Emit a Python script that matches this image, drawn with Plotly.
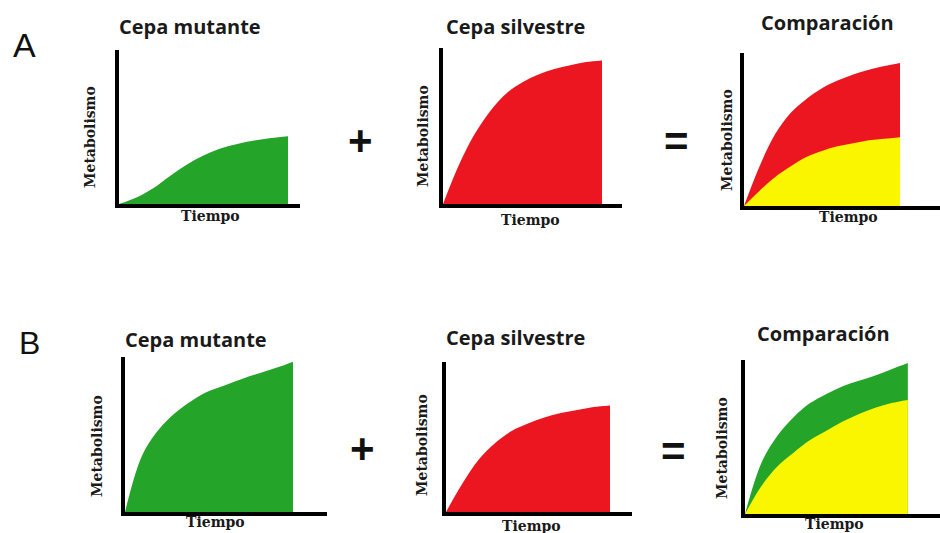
import plotly.graph_objects as go

W, H = 940, 533

# ---- data ----
tiempo = [0, 1, 2, 3, 4, 5, 6, 7, 8, 9, 10]

# Panel A
a_mutante = [0, 4, 10, 18, 25.5, 31.5, 36, 39, 41.2, 42.8, 44]
a_silvestre = [0, 25, 45, 60, 71, 78, 83, 86.5, 89, 91, 92]
a_comp_silvestre = [0, 26, 47, 61, 70, 77, 82, 86, 89, 91.5, 93.5]
a_comp_mutante = [0, 10, 19, 26, 32, 36, 39, 41, 43, 44, 45]

# Panel B
b_mutante = [0, 36, 53, 64, 72, 78, 82, 86, 89.5, 93, 97]
b_silvestre = [0, 19, 35, 46, 54, 59, 63, 66, 68, 70, 71]
b_comp_mutante = [0, 33, 51, 63, 72, 78, 83, 86.5, 90, 94, 98]
b_comp_silvestre = [0, 18, 31, 40, 48, 54, 60, 65, 69, 72, 74]

titulos = ["Cepa mutante", "Cepa silvestre", "Comparación",
           "Cepa mutante", "Cepa silvestre", "Comparación"]
eje_x = "Tiempo"
eje_y = "Metabolismo"
etiquetas = ["A", "B"]

GREEN = "rgb(36,165,42)"
RED = "rgb(236,22,32)"
YELLOW = "rgb(250,246,0)"

# panel geometry in pixels: (left, right, bottom, top, data_end_px)
panels = [
    (119, 300, 204, 50, 288),
    (443, 622, 204, 48, 602),
    (744, 945, 206, 53, 904),
    (125, 327, 512, 357, 293),
    (446, 632, 512, 362, 610),
    (745, 945, 514, 360, 912),
]

series = [
    [(a_mutante, GREEN)],
    [(a_silvestre, RED)],
    [(a_comp_silvestre, RED), (a_comp_mutante, YELLOW)],
    [(b_mutante, GREEN)],
    [(b_silvestre, RED)],
    [(b_comp_mutante, GREEN), (b_comp_silvestre, YELLOW)],
]

fig = go.Figure()
layout = dict(
    width=W, height=H, margin=dict(l=0, r=0, t=0, b=0),
    paper_bgcolor="white", plot_bgcolor="white", showlegend=False,
)

for i, (geo, ser) in enumerate(zip(panels, series)):
    n = i + 1
    xs = "x" if n == 1 else f"x{n}"
    ys = "y" if n == 1 else f"y{n}"
    for vals, col in ser:
        fig.add_trace(go.Scatter(
            x=tiempo, y=vals, xaxis=xs, yaxis=ys, mode="lines",
            line=dict(width=0, color=col, shape="spline", smoothing=1.0),
            fill="tozeroy", fillcolor=col, hoverinfo="skip"))
    l, r, b, t, de = geo
    xmax = (r - l) / (de - l) * tiempo[-1]
    xd = [max(0, l / W), min(1, r / W)]
    yd = [1 - b / H, 1 - t / H]
    ax = dict(domain=xd, range=[0, xmax], showgrid=False, zeroline=False,
              showticklabels=False, ticks="", showline=True, linewidth=4,
              linecolor="black", fixedrange=True)
    ay = dict(domain=yd, range=[0, 100], showgrid=False, zeroline=False,
              showticklabels=False, ticks="", showline=True, linewidth=4,
              linecolor="black", fixedrange=True)
    if n > 1:
        ax["anchor"] = ys
        ay["anchor"] = xs
    layout["xaxis" if n == 1 else f"xaxis{n}"] = ax
    layout["yaxis" if n == 1 else f"yaxis{n}"] = ay

fig.update_layout(**layout)

def P(x, y):
    return x / W, 1 - y / H

ann = []
def add_text(text, x, y, size, family, color="#1a1a1a", angle=0, weight="bold"):
    px, py = P(x, y)
    ann.append(dict(text=text, x=px, y=py, xref="paper", yref="paper",
                    xanchor="center", yanchor="middle", showarrow=False,
                    textangle=angle,
                    font=dict(size=size, family=family, color=color, weight=weight)))

title_pos = [(190, 27), (515, 27), (827, 23), (196, 339), (515, 337), (823, 333)]
for txt, (x, y) in zip(titulos, title_pos):
    add_text(txt, x, y, 20, "Open Sans")

tiempo_pos = [(210, 216), (530, 220), (848, 217), (215, 522), (531, 526), (834, 524)]
for (x, y) in tiempo_pos:
    add_text(eje_x, x, y, 14, "DejaVu Serif")

metab_pos = [(90, 137), (423, 136), (727, 140), (97, 446), (422, 445), (722, 448)]
for (x, y) in metab_pos:
    add_text(eje_y, x, y, 14, "DejaVu Serif", angle=-90)

add_text(etiquetas[0], 24, 45, 34, "Liberation Sans", color="#111", weight="normal")
add_text(etiquetas[1], 29, 343, 32, "Liberation Sans", color="#111", weight="normal")

for (x, y) in [(360, 140), (362, 448)]:
    add_text("+", x, y, 42, "Liberation Sans", color="#111")
for (x, y) in [(676, 141), (673, 451)]:
    add_text("=", x, y, 42, "Liberation Sans", color="#111")

fig.update_layout(annotations=ann)
fig.write_html(
    "out.html",
    config={"displayModeBar": False, "staticPlot": True},
    post_script="document.body.style.margin='0';document.body.style.padding='0';"
                "document.body.style.overflow='hidden';",
)
